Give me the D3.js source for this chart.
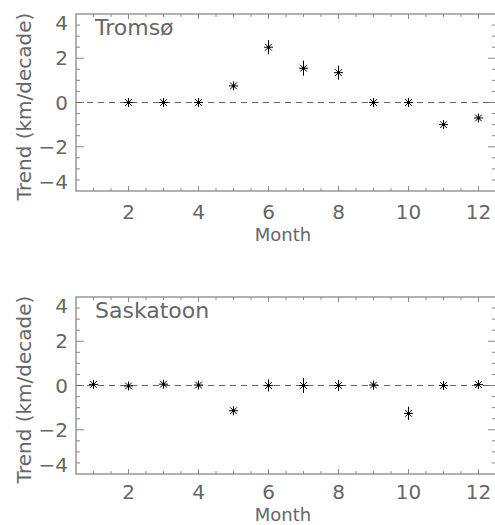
<!DOCTYPE html>
<html>
<head>
<meta charset="utf-8">
<script src="https://cdn.jsdelivr.net/npm/d3@7"></script>
<style>
  body { margin: 0; background: #fff; }
  text { font-family: "DejaVu Sans", sans-serif; fill: #666; }
</style>
</head>
<body>
<div id="chart"></div>
<script>
// values
let stations = ["Tromsø", "Saskatoon"];
let tromsoMonths = [2, 3, 4, 5, 6, 7, 8, 9, 10, 11, 12];
let tromsoTrend  = [0, 0, 0, 0.75, 2.5, 1.55, 1.35, 0, 0, -1.0, -0.7];
let tromsoErr    = [0.1, 0.1, 0.1, 0.15, 0.32, 0.34, 0.32, 0.12, 0.1, 0.2, 0.15];
let saskMonths = [1, 2, 3, 4, 5, 6, 7, 8, 9, 10, 11, 12];
let saskTrend  = [0.05, -0.02, 0.06, 0.02, -1.14, 0, 0, 0, 0.02, -1.26, 0, 0.04];
let saskErr    = [0.1, 0.1, 0.1, 0.1, 0.15, 0.27, 0.34, 0.25, 0.2, 0.3, 0.2, 0.12];
let xTickLabels = [2, 4, 6, 8, 10, 12];
let yTickLabels = [-4, -2, 0, 2, 4];

let series = [
    {name: stations[0], months: tromsoMonths, trend: tromsoTrend, err: tromsoErr},
    {name: stations[1], months: saskMonths, trend: saskTrend, err: saskErr}
];

let W = 495, H = 525;
let left = 76, right = 496, panelH = 177;
let tops = [14, 297];
let tickOffset = [28, 25];
let monthOffset = [50, 47];

let svg = d3.select("#chart").append("svg")
    .attr("width", W)
    .attr("height", H);

let xScale = d3.scaleLinear().domain([0.5, 12.5]).range([left, right]);

series.forEach(function(s, k) {
    let top = tops[k];
    let g = svg.append("g");
    let yScale = d3.scaleLinear().domain([-4, 4]).range([top + panelH, top]);

    // minor ticks every 0.5
    let xMinor = d3.range(1, 12.51, 0.5);
    let yMinor = d3.range(-3.5, 3.51, 0.5);

    g.selectAll(".xt").data(xMinor).enter().append("line")
        .attr("x1", d => xScale(d)).attr("x2", d => xScale(d))
        .attr("y1", top + panelH).attr("y2", d => top + panelH - (d % 2 === 0 ? 5 : 3))
        .attr("stroke", "#888").attr("stroke-width", 1);
    g.selectAll(".xtt").data(xMinor).enter().append("line")
        .attr("x1", d => xScale(d)).attr("x2", d => xScale(d))
        .attr("y1", top).attr("y2", d => top + (d % 2 === 0 ? 5 : 3))
        .attr("stroke", "#888").attr("stroke-width", 1);
    g.selectAll(".yt").data(yMinor).enter().append("line")
        .attr("x1", left).attr("x2", d => left + (d % 2 === 0 ? 8 : 4))
        .attr("y1", d => yScale(d)).attr("y2", d => yScale(d))
        .attr("stroke", "#888").attr("stroke-width", 1);
    g.selectAll(".ytr").data(yMinor).enter().append("line")
        .attr("x1", right).attr("x2", d => right - (d % 2 === 0 ? 8 : 4))
        .attr("y1", d => yScale(d)).attr("y2", d => yScale(d))
        .attr("stroke", "#888").attr("stroke-width", 1);

    // frame
    g.append("rect")
        .attr("x", left).attr("y", top)
        .attr("width", right - left).attr("height", panelH)
        .attr("fill", "none").attr("stroke", "#888").attr("stroke-width", 1.3);

    // zero line
    g.append("line")
        .attr("x1", left).attr("x2", right)
        .attr("y1", yScale(0)).attr("y2", yScale(0))
        .attr("stroke", "#666").attr("stroke-width", 1)
        .attr("stroke-dasharray", "6,5");

    // tick labels
    g.selectAll(".xl").data(xTickLabels).enter().append("text")
        .attr("x", d => xScale(d)).attr("y", top + panelH + tickOffset[k])
        .attr("text-anchor", "middle")
        .style("font-size", "20px")
        .text(d => d);
    g.selectAll(".yl").data(yTickLabels).enter().append("text")
        .attr("x", 68)
        .attr("y", d => yScale(d) + 7 + (d === 4 ? 9 : d === -4 ? -9 : 0))
        .attr("text-anchor", "end")
        .style("font-size", "20px")
        .text(d => d < 0 ? "\u2212" + Math.abs(d) : d);

    // axis titles
    g.append("text")
        .attr("x", (left + right) / 2 - 3).attr("y", top + panelH + monthOffset[k])
        .attr("text-anchor", "middle")
        .style("font-size", "18px")
        .text("Month");
    g.append("text")
        .attr("transform", "translate(31," + (top + panelH / 2 + 4) + ") rotate(-90)")
        .attr("text-anchor", "middle")
        .style("font-size", "20px")
        .text("Trend (km/decade)");

    g.append("text")
        .attr("x", 95).attr("y", top + 21)
        .style("font-size", "22px")
        .text(s.name);

    // points: asterisk plus vertical error bar
    let pts = s.months.map((m, i) => ({m: m, v: s.trend[i], e: s.err[i]}));
    let r = 4.5;
    let marks = g.selectAll(".pt").data(pts).enter().append("g")
        .attr("transform", d => "translate(" + xScale(d.m) + "," + yScale(d.v) + ")");
    marks.append("line")
        .attr("x1", 0).attr("x2", 0)
        .attr("y1", d => Math.min(-r, yScale(d.v + d.e) - yScale(d.v)))
        .attr("y2", d => Math.max(r, yScale(d.v - d.e) - yScale(d.v)))
        .attr("stroke", "#000").attr("stroke-width", 1);
    marks.append("line")
        .attr("x1", -r).attr("x2", r).attr("y1", 0).attr("y2", 0)
        .attr("stroke", "#000").attr("stroke-width", 1);
    marks.append("line")
        .attr("x1", -r * 0.75).attr("x2", r * 0.75).attr("y1", -r * 0.75).attr("y2", r * 0.75)
        .attr("stroke", "#000").attr("stroke-width", 1);
    marks.append("line")
        .attr("x1", -r * 0.75).attr("x2", r * 0.75).attr("y1", r * 0.75).attr("y2", -r * 0.75)
        .attr("stroke", "#000").attr("stroke-width", 1);
    marks.append("rect")
        .attr("x", -1.2).attr("y", -1.2).attr("width", 2.4).attr("height", 2.4)
        .attr("fill", "#000");
});
</script>
</body>
</html>
